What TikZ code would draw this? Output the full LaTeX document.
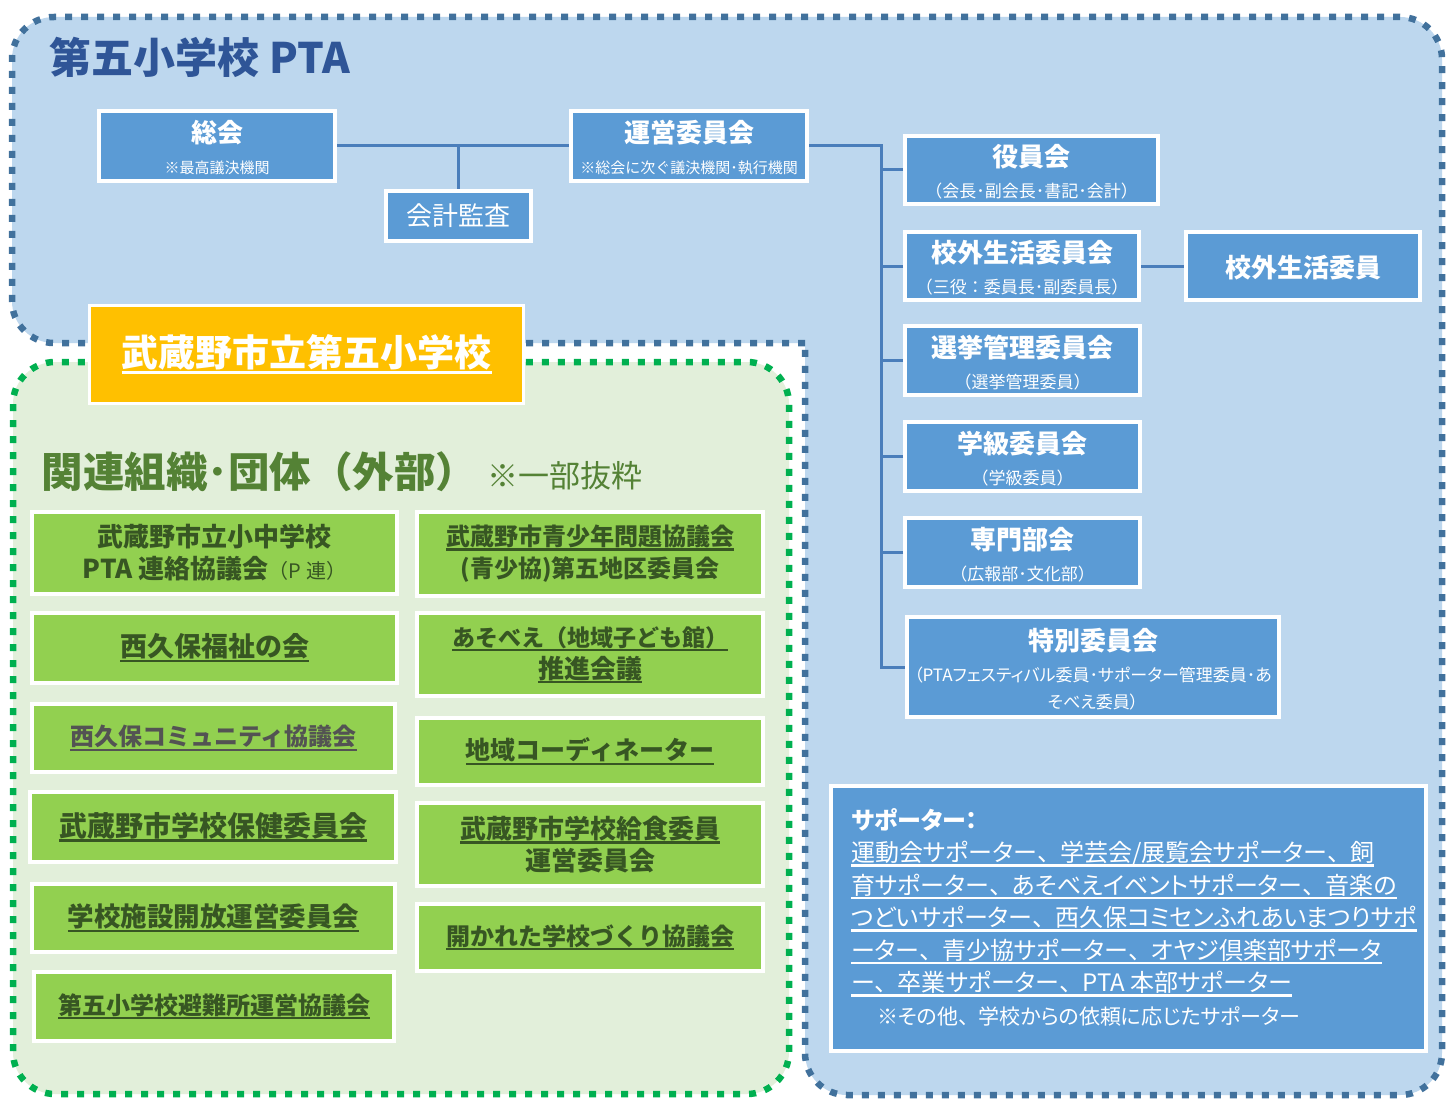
\documentclass[tikz,border=0pt]{standalone}
\usepackage{fontspec}
\setmainfont{Noto Sans CJK JP}
\newfontfamily\prop{Noto Sans CJK JP}[RawFeature=+palt]

\definecolor{ptabg}{HTML}{BDD7EE}
\definecolor{ptaedge}{HTML}{41719C}
\definecolor{ptatitle}{HTML}{2F5597}
\definecolor{boxblue}{HTML}{5B9BD5}
\definecolor{linkblue}{HTML}{4A7EBB}
\definecolor{schoolyellow}{HTML}{FFC000}
\definecolor{extbg}{HTML}{E2EFDA}
\definecolor{extedge}{HTML}{00B050}
\definecolor{boxgreen}{HTML}{92D050}
\definecolor{grtext}{HTML}{375623}
\definecolor{grhead}{HTML}{548235}
\definecolor{graytext}{HTML}{535353}

% underline of one line of text
\newcommand{\undr}[1]{\setbox0\hbox{#1}\rlap{\rule[-0.2em]{\wd0}{0.09em}}\box0}
% bold box title
\newcommand{\ttl}[1]{{\fontsize{26}{30}\selectfont\bfseries\rule{0pt}{26pt}#1}}
% full width comma in proportional text
\newcommand{\tn}{\makebox[0.95em][l]{、}}

\begin{document}
\begin{tikzpicture}[x=1pt, y=-1pt,
	bluebox/.style={draw=white, line width=4pt, fill=boxblue, text=white,
		align=center, inner sep=0pt, font=\fontsize{17}{31}\selectfont},
	greenbox/.style={draw=white, line width=4pt, fill=boxgreen, text=grtext,
		align=center, inner sep=0pt},
	conn/.style={draw=linkblue, line width=3pt},
	dots/.style={line width=6.5pt, dash pattern=on 7pt off 9pt},
]
	\fill[white] (0,0) rectangle (1447,1099);
	\useasboundingbox (0,0) rectangle (1447,1099);

	% PTA area
	\filldraw[fill=ptabg, draw=ptaedge, dots, rounded corners=42pt]
		(805,343) -- (12,343) -- (12,17) -- (1442,17) -- (1442,1095)
		-- (805,1095) -- (805,343);
	\node[anchor=base west, text=ptatitle, font=\fontsize{42}{50}\selectfont\bfseries]
		(ptatitle) at (46,74) {第五小学校 PTA};

	% outside area
	\filldraw[fill=extbg, draw=extedge, dots, rounded corners=42pt]
		(13,362) rectangle (789,1094);
	\node[anchor=base west, text=grhead] (kanren) at (38,487)
		{{\fontsize{41.5}{46}\selectfont\bfseries 関連組織･団体（外部）}\hspace{10pt}{\fontsize{31}{36}\selectfont ※一部抜粋}};

	% top row
	\node[bluebox, minimum width=236pt, minimum height=70pt, font=\fontsize{15}{31}\selectfont]
		(soukai) at (217,146) {\ttl{総会}\\※最高議決機関};
	\node[bluebox, minimum width=145pt, minimum height=50pt, font=\fontsize{26}{30}\selectfont]
		(kansa) at (458.5,216) {会計監査};
	\node[bluebox, minimum width=236pt, minimum height=70pt, font=\fontsize{15}{31}\selectfont]
		(unei) at (689,146) {\ttl{運営委員会}\\※総会に次ぐ議決機関･執行機関};

	% committees
	\node[bluebox, minimum width=253pt, minimum height=68pt]
		(yakuin) at (1031.5,170) {\ttl{役員会}\\（会長･副会長･書記･会計）};
	\node[bluebox, minimum width=234pt, minimum height=68pt]
		(kougai) at (1022,266) {\ttl{校外生活委員会}\\（三役：委員長･副委員長）};
	\node[bluebox, minimum width=234pt, minimum height=68pt]
		(kougaiin) at (1303,266) {\ttl{校外生活委員}};
	\node[bluebox, minimum width=235pt, minimum height=69pt]
		(senkyo) at (1022.5,360.5) {\ttl{選挙管理委員会}\\（選挙管理委員）};
	\node[bluebox, minimum width=235pt, minimum height=69pt]
		(gakkyu) at (1022.5,456.5) {\ttl{学級委員会}\\（学級委員）};
	\node[bluebox, minimum width=235pt, minimum height=69pt]
		(senmon) at (1022.5,552.5) {\ttl{専門部会}\\（広報部･文化部）};
	\node[bluebox, minimum width=372pt, minimum height=100pt, font=\fontsize{17}{27}\selectfont]
		(tokubetsu) at (1093,667)
		{\ttl{特別委員会}\\[4pt]{\prop （PTAフェスティバル委員･サポーター管理委員･あ}\\{\prop そべえ委員）}};

	% connectors
	\coordinate (bus) at (881,146);
	\draw[conn] (soukai) -- (unei);
	\draw[conn] (kansa.north) -- (kansa.north |- soukai.east);
	\draw[conn] (unei.east) -- (bus) |- (tokubetsu.west);
	\foreach \n in {yakuin, kougai, senkyo, gakkyu, senmon}
		\draw[conn] (\n.west) -- (\n.west -| bus);
	\draw[conn] (kougai) -- (kougaiin);

	% supporters
	\node[bluebox, minimum width=595pt, minimum height=265pt]
		(supporter) at (1128.5,918.5) {};
	\node[anchor=north west, text=white, align=left, inner sep=0pt,
		font=\prop\fontsize{24}{32.5}\selectfont]
		(suptext) at (851,808)
		{{\bfseries サポーター：}\\
		\undr{運動会サポーター\tn 学芸会/展覧会サポーター\tn 飼}\\
		\undr{育サポーター\tn あそべえイベントサポーター\tn 音楽の}\\
		\undr{つどいサポーター\tn 西久保コミセンふれあいまつりサポ}\\
		\undr{ーター\tn 青少協サポーター\tn オヤジ倶楽部サポータ}\\
		\undr{ー\tn 卒業サポーター\tn PTA 本部サポーター}\\
		\hspace*{26pt}{\fontsize{21}{26}\selectfont ※その他\tn 学校からの依頼に応じたサポーター}};

	% related organisations, left column
	\node[greenbox, minimum width=365pt, minimum height=82pt, font=\fontsize{26}{32}\selectfont\bfseries]
		(pren) at (214.5,553)
		{武蔵野市立小中学校\\PTA 連絡協議会{\mdseries\fontsize{20}{24}\selectfont（P 連）}};
	\node[greenbox, minimum width=365pt, minimum height=70pt, font=\fontsize{27}{32}\selectfont\bfseries]
		(fukushi) at (214.5,648) {\undr{西久保福祉の会}};
	\node[greenbox, minimum width=363pt, minimum height=68pt, text=graytext, font=\fontsize{24}{32}\selectfont\bfseries]
		(community) at (213.5,738) {\undr{西久保コミュニティ協議会}};
	\node[greenbox, minimum width=366pt, minimum height=70pt, font=\fontsize{28}{32}\selectfont\bfseries]
		(hoken) at (213,827) {\undr{武蔵野市学校保健委員会}};
	\node[greenbox, minimum width=363pt, minimum height=68pt, font=\fontsize{26.5}{32}\selectfont\bfseries]
		(shisetsu) at (213.5,918) {\undr{学校施設開放運営委員会}};
	\node[greenbox, minimum width=360pt, minimum height=69pt, font=\fontsize{24}{32}\selectfont\bfseries]
		(hinan) at (214,1006.5) {\undr{第五小学校避難所運営協議会}};

	% related organisations, right column
	\node[greenbox, minimum width=346pt, minimum height=84pt, font=\fontsize{24}{32}\selectfont\bfseries]
		(seishounen) at (590,554)
		{\undr{武蔵野市青少年問題協議会}\\(青少協)第五地区委員会};
	\node[greenbox, minimum width=346pt, minimum height=83pt, font=\fontsize{23}{32}\selectfont\bfseries]
		(asobee) at (590,654.5)
		{\undr{あそべえ（地域子ども館）}\\\undr{\fontsize{26}{32}\selectfont 推進会議}};
	\node[greenbox, minimum width=346pt, minimum height=67pt, font=\fontsize{25}{32}\selectfont\bfseries]
		(coordinator) at (590,751.5) {\undr{地域コーディネーター}};
	\node[greenbox, minimum width=346pt, minimum height=83pt, font=\fontsize{26}{32}\selectfont\bfseries]
		(kyushoku) at (590,844.5)
		{\undr{武蔵野市学校給食委員}\\運営委員会};
	\node[greenbox, minimum width=346pt, minimum height=67pt, font=\fontsize{24}{32}\selectfont\bfseries]
		(hirakareta) at (590,937.5) {\undr{開かれた学校づくり協議会}};

	% the school
	\node[draw=white, line width=3pt, fill=schoolyellow, text=white,
		minimum width=434pt, minimum height=98pt, inner sep=0pt,
		font=\fontsize{37}{44}\selectfont\bfseries]
		(school) at (306.5,354.5) {\undr{武蔵野市立第五小学校}};
\end{tikzpicture}
\end{document}
